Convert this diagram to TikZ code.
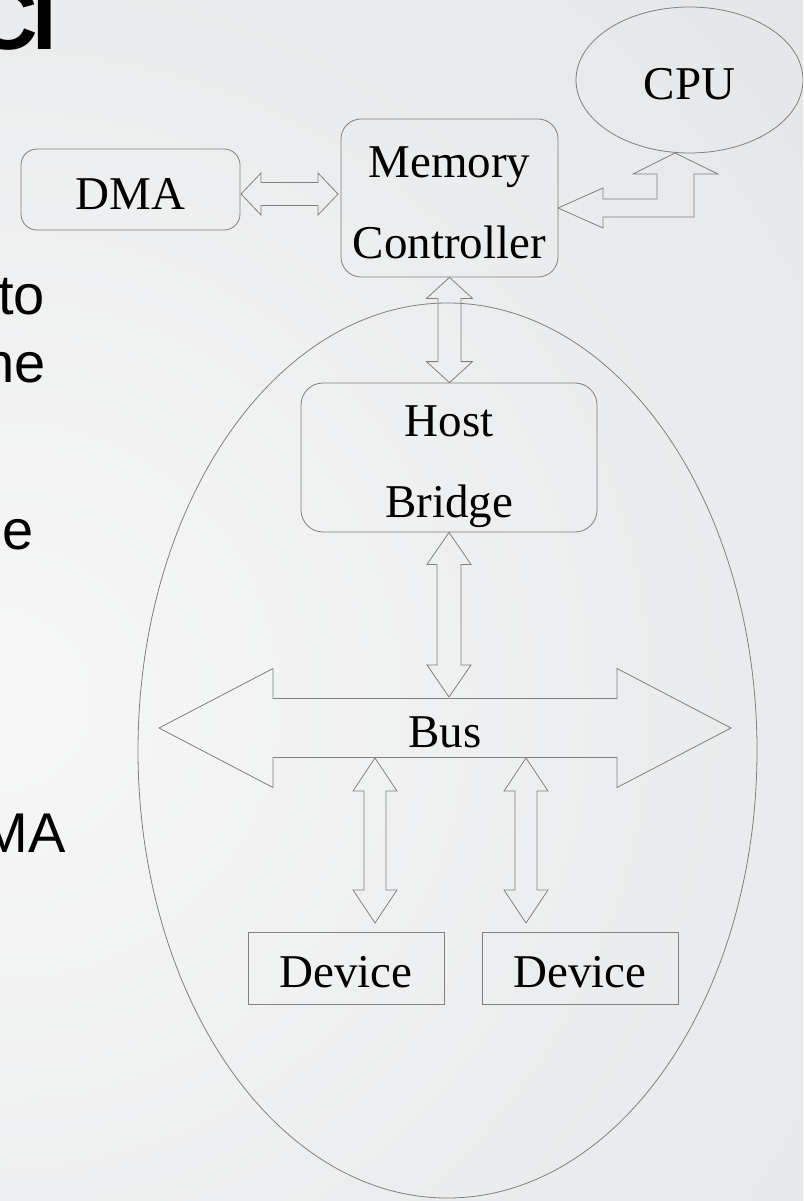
\documentclass[tikz,border=0pt]{standalone}
\usepackage{fontspec}
\setmainfont{Liberation Serif}
\newfontfamily\slidesans{Liberation Sans}
\usetikzlibrary{shapes.geometric,calc}

\definecolor{linegray}{RGB}{128,128,128}
\definecolor{bglight}{RGB}{247,247,247}
\definecolor{bgdark}{RGB}{206,210,213}

\tikzset{
  outline/.style={draw=linegray, line width=0.8pt},
  boxtext/.style={font=\fontsize{47}{81}\selectfont, text=black, align=center, inner sep=0pt},
  rbox/.style={outline, boxtext, rectangle},
  oval/.style={outline, ellipse, inner sep=0pt},
  slidetext/.style={font=\slidesans\fontsize{56}{67}\selectfont, anchor=base east, inner sep=0pt},
  blk/.style={outline, line join=miter},
}

% vertical two-headed block arrow: #1 upper tip, #2 lower tip,
% #3 half head width, #4 half shaft width, #5 head length
\newcommand\vbiarrow[5]{%
  \draw[blk] let \p1=(#1), \p2=(#2) in
    (\x1,\y1) -- (\x1+#3pt,\y1-#5pt) -- (\x1+#4pt,\y1-#5pt) -- (\x1+#4pt,\y2+#5pt)
    -- (\x1+#3pt,\y2+#5pt) -- (\x1,\y2) -- (\x1-#3pt,\y2+#5pt) -- (\x1-#4pt,\y2+#5pt)
    -- (\x1-#4pt,\y1-#5pt) -- (\x1-#3pt,\y1-#5pt) -- cycle;}

% horizontal two-headed block arrow: #1 left tip, #2 right tip
\newcommand\hbiarrow[5]{%
  \draw[blk] let \p1=(#1), \p2=(#2) in
    (\x1,\y1) -- (\x1+#5pt,\y1+#3pt) -- (\x1+#5pt,\y1+#4pt) -- (\x2-#5pt,\y1+#4pt)
    -- (\x2-#5pt,\y1+#3pt) -- (\x2,\y1) -- (\x2-#5pt,\y1-#3pt) -- (\x2-#5pt,\y1-#4pt)
    -- (\x1+#5pt,\y1-#4pt) -- (\x1+#5pt,\y1-#3pt) -- cycle;}

\begin{document}
\begin{tikzpicture}[x=1pt,y=-1pt]
\useasboundingbox (0,0) rectangle (803,1201);
\clip (0,0) rectangle (803,1201);

% slide background
\shade[inner color=bglight, outer color=bgdark] (0,700) circle (2300);

% slide text running in from the left
\node[slidetext, font=\slidesans\bfseries\fontsize{88}{88}\selectfont] (title) at (57,50) {C\kern-6pt I};
\node[slidetext] (line1) at (45,314) {to};
\node[slidetext] (line2) at (46,382) {ne};
\node[slidetext] (line3) at (34,549) {e};
\node[slidetext] (line4) at (66,852) {MA};

% PCI domain
\node[oval, minimum width=619pt, minimum height=895pt] (domain) at (447.5,750.5) {};

% components (two-line labels: text height/depth are measured from the last line)
\node[oval, boxtext, minimum width=227pt, minimum height=146pt, text height=40pt, text depth=0pt] (cpu) at (689.5,80) {CPU};
\node[rbox, rounded corners=16pt, minimum width=219pt, minimum height=81pt, text height=39pt, text depth=0pt] (dma) at (130.5,189.5) {DMA};
\node[rbox, rounded corners=20pt, minimum width=217pt, minimum height=158pt, text height=122pt, text depth=2pt] (mem) at (449.5,198) {Memory\\Controller};
\node[rbox, rounded corners=22pt, minimum width=296pt, minimum height=149pt, text height=121pt, text depth=2pt] (host) at (449,457.5) {Host\\Bridge};
\node[rbox, minimum width=196pt, minimum height=72pt, text height=38pt, text depth=0pt] (dev1) at (346,968) {Device};
\node[rbox, minimum width=196pt, minimum height=72pt, text height=38pt, text depth=0pt] (dev2) at (580,968) {Device};
\node[boxtext, text height=38pt, text depth=0pt] (bus) at (445,728) {Bus};

% connector end points
\coordinate (busW) at (159,728);
\coordinate (busE) at (731,728);
\coordinate (busN) at (450,697);
\coordinate (busS1) at (375,758);
\coordinate (busS2) at (526,758);
\coordinate (dev1N) at (375,923);
\coordinate (dev2N) at (526,923);
\coordinate (dmaE) at (241,194);
\coordinate (memW) at (338,194);
\coordinate (cpuS) at (675,153);
\coordinate (memE) at (558,208);

% bus
\hbiarrow{busW}{busE}{59.5}{29.5}{114}

% links
\hbiarrow{dmaE}{memW}{21}{11.5}{20}
\vbiarrow{mem.south}{host.north}{23}{11.5}{21}
\vbiarrow{host.south}{busN}{22}{12}{32}
\vbiarrow{busS1}{dev1N}{22}{11}{33}
\vbiarrow{busS2}{dev2N}{22}{11}{33}

% CPU to memory controller, bent
\draw[blk] let \p1=(cpuS), \p2=(memE) in
  (\x1,\y1) -- (\x1+43pt,\y1-21pt) -- (\x1+19pt,\y1-21pt) -- (\x1+19pt,\y2-9pt)
  -- (\x2+45pt,\y2-9pt) -- (\x2+45pt,\y2-20pt) -- (\x2,\y2) -- (\x2+45pt,\y2+20pt)
  -- (\x2+45pt,\y2+9pt) -- (\x1-18pt,\y2+9pt) -- (\x1-18pt,\y1-21pt) -- (\x1-42pt,\y1-21pt) -- cycle;
\end{tikzpicture}
\end{document}
